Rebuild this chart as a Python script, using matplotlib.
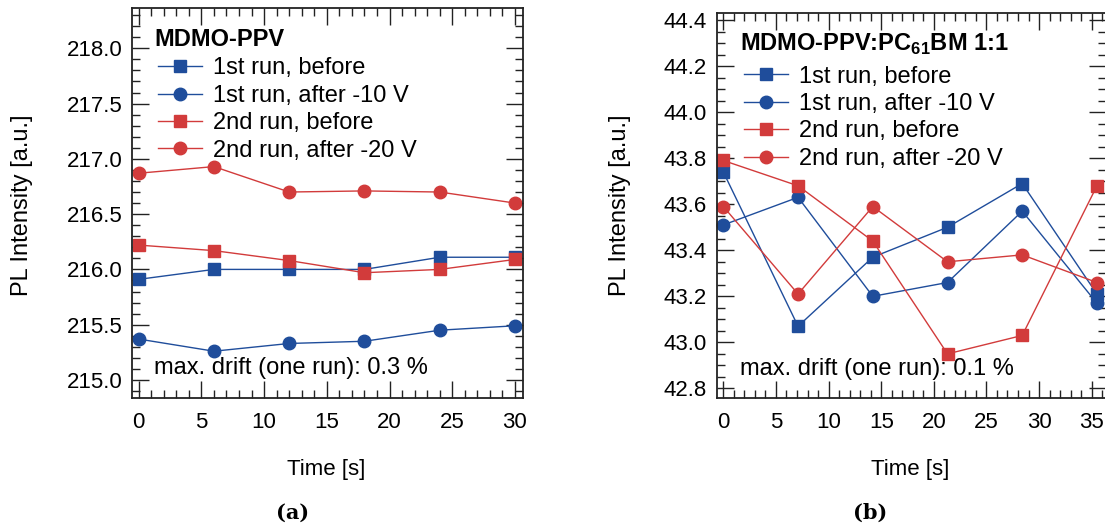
import matplotlib

matplotlib.use("Agg")
import matplotlib.pyplot as plt  # noqa: E402
from matplotlib.ticker import MultipleLocator  # noqa: E402

plt.rcParams["font.family"] = ["Liberation Sans", "DejaVu Sans"]
plt.rcParams["mathtext.fontset"] = "custom"
plt.rcParams["mathtext.rm"] = "Liberation Sans"
plt.rcParams["mathtext.bf"] = "Liberation Sans:bold"

BLUE = "#1f4d9b"
RED = "#d23b3b"

labels = [
    "1st run, before",
    "1st run, after -10 V",
    "2nd run, before",
    "2nd run, after -20 V",
]

# (a) MDMO-PPV
t_a = [0, 6, 12, 18, 24, 30]
a_run1_before = [215.91, 216.00, 216.00, 216.00, 216.11, 216.11]
a_run1_after = [215.37, 215.26, 215.33, 215.35, 215.45, 215.49]
a_run2_before = [216.22, 216.17, 216.08, 215.97, 216.00, 216.09]
a_run2_after = [216.87, 216.93, 216.70, 216.71, 216.70, 216.60]

# (b) MDMO-PPV:PC61BM 1:1
t_b = [0, 7.1, 14.2, 21.3, 28.4, 35.5]
b_run1_before = [43.74, 43.07, 43.37, 43.50, 43.69, 43.21]
b_run1_after = [43.51, 43.63, 43.20, 43.26, 43.57, 43.17]
b_run2_before = [43.79, 43.68, 43.44, 42.95, 43.03, 43.68]
b_run2_after = [43.59, 43.21, 43.59, 43.35, 43.38, 43.26]

W, H = 1105, 527


def px_axes(fig, x0, y0, x1, y1):
    return fig.add_axes([x0 / W, 1 - y1 / H, (x1 - x0) / W, (y1 - y0) / H])


def style_axes(ax, ymajor, yminor):
    ax.xaxis.set_major_locator(MultipleLocator(5))
    ax.xaxis.set_minor_locator(MultipleLocator(1))
    ax.yaxis.set_major_locator(MultipleLocator(ymajor))
    ax.yaxis.set_minor_locator(MultipleLocator(yminor))
    ax.tick_params(which="both", direction="in", top=True, right=True,
                   color="#222222", width=1.0)
    ax.tick_params(which="major", length=12, labelsize=16)
    ax.tick_params(which="minor", length=6)
    ax.tick_params(axis="x", pad=10)
    ax.tick_params(axis="y", pad=7)
    for s in ax.spines.values():
        s.set_linewidth(1.3)
        s.set_color("#222222")


def draw(ax, t, series, title, note, x_leg, y_title, y_leg, y_note):
    styles = [(BLUE, "s"), (BLUE, "o"), (RED, "s"), (RED, "o")]
    for y, (c, m), lab in zip(series, styles, labels):
        ax.plot(t, y, color=c, marker=m, markersize=9, lw=1.0, label=lab,
                clip_on=False)
    ax.legend(loc="upper left", bbox_to_anchor=(x_leg, y_leg), frameon=False,
              fontsize=17, handlelength=1.86, handletextpad=0.47,
              labelspacing=0.23, borderpad=0, borderaxespad=0)
    ax.text(x_leg - 0.01, y_title, title, transform=ax.transAxes,
            fontsize=17, fontweight="bold", ha="left", va="center")
    ax.text(x_leg - 0.01, y_note, note, transform=ax.transAxes, fontsize=17,
            ha="left", va="center")


fig = plt.figure(figsize=(W / 100, H / 100), dpi=100)

ax_a = px_axes(fig, 132, 8.3, 523, 398.3)
draw(ax_a, t_a, [a_run1_before, a_run1_after, a_run2_before, a_run2_after],
     "MDMO-PPV", "max. drift (one run): 0.3 %", 0.066, 0.919, 0.874, 0.078)
style_axes(ax_a, 0.5, 0.1)
ax_a.set_xlim(-0.53, 30.64)
ax_a.set_ylim(214.834, 218.362)
ax_a.yaxis.set_major_formatter(lambda v, p: f"{v:.1f}")

ax_b = px_axes(fig, 716.7, 12.7, 1106, 398.3)
draw(ax_b, t_b, [b_run1_before, b_run1_after, b_run2_before, b_run2_after],
     r"MDMO-PPV:PC$_{\mathbf{61}}$BM 1:1", "max. drift (one run): 0.1 %",
     0.070, 0.919, 0.863, 0.076)
style_axes(ax_b, 0.2, 0.05)
ax_b.set_xlim(-0.63, 36.36)
ax_b.set_ylim(42.757, 44.432)
ax_b.yaxis.set_major_formatter(lambda v, p: f"{v:.1f}")

for x_lab, x_t, x_cap, cap in [(22, 326, 293, "(a)"), (620, 910, 870, "(b)")]:
    fig.text(x_lab / W, 1 - 205 / H, "PL Intensity [a.u.]", rotation=90,
             fontsize=17, ha="center", va="center")
    fig.text(x_t / W, 1 - 469 / H, "Time [s]", fontsize=16,
             ha="center", va="center")
    fig.text(x_cap / W, 1 - 513 / H, cap, fontsize=15, fontweight="bold",
             family="DejaVu Serif", ha="center", va="center")

fig.savefig("out.png", dpi=100)
